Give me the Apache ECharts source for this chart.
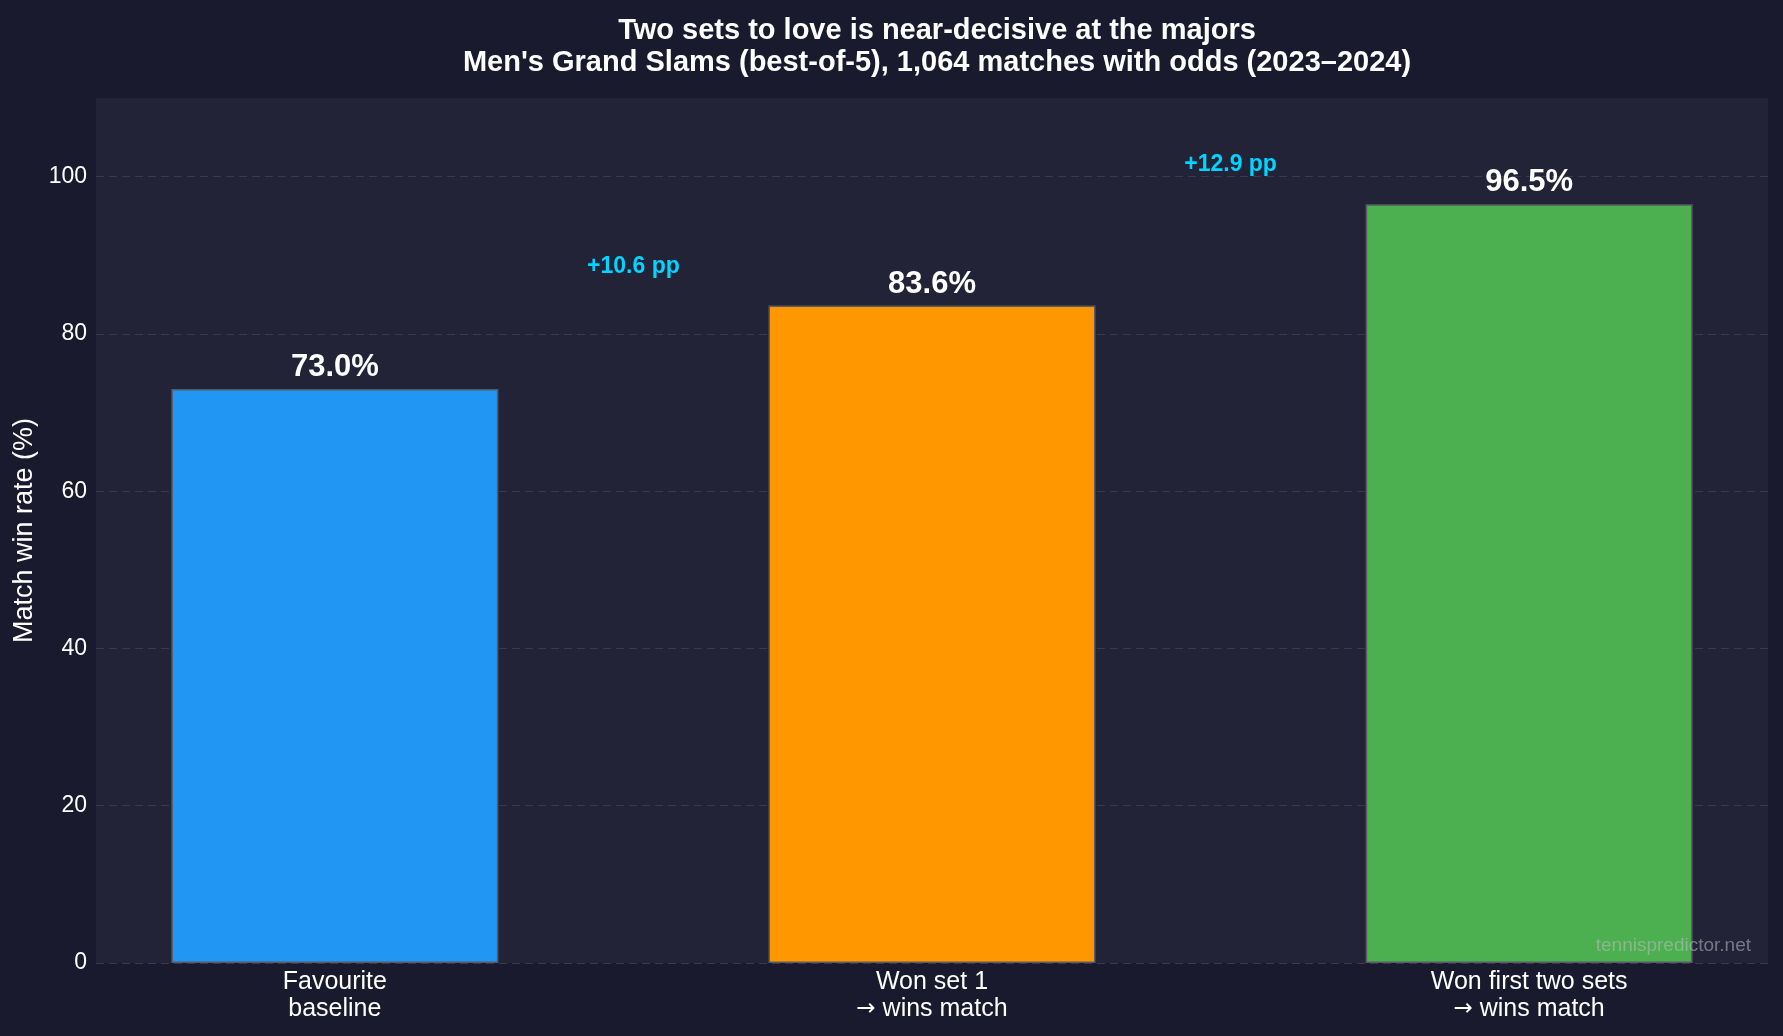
<!DOCTYPE html>
<html>
<head>
<meta charset="utf-8">
<script src="https://cdn.jsdelivr.net/npm/echarts@6/dist/echarts.min.js"></script>
<style>
  html, body { margin: 0; padding: 0; background: #1a1a2e; }
  #chart { width: 1783px; height: 1036px; }
</style>
</head>
<body>
<div id="chart"></div>
<script>
// 数据
var categories = ['Favourite\nbaseline', 'Won set 1\n\u2192 wins match', 'Won first two sets\n\u2192 wins match'];
var winRates = [73.0, 83.6, 96.5];
var barColors = ['#2196F3', '#FF9800', '#4CAF50'];
var yTicks = [0, 20, 40, 60, 80, 100];

// 相邻柱子之间的差值标注
var deltas = [];
for (var i = 1; i < winRates.length; i++) {
    var d = winRates[i] - winRates[i - 1];
    deltas.push({
        value: [i - 0.5, Math.max(winRates[i], winRates[i - 1]) + 5],
        label: '+' + d.toFixed(1) + ' pp'
    });
}

var barData = winRates.map(function (v, i) {
    return {
        value: [i, v],
        itemStyle: { color: barColors[i] }
    };
});

var myChart = echarts.init(document.getElementById('chart'));
var font = 'Liberation Sans, Arial, sans-serif';

var option = {
    backgroundColor: '#1a1a2e',
    animation: false,
    title: {
        text: 'Two sets to love is near-decisive at the majors\nMen\'s Grand Slams (best-of-5), 1,064 matches with odds (2023\u20132024)',
        left: 932,   // 居中于绘图区
        textAlign: 'center',
        top: 10,
        textStyle: {
            color: '#ffffff',
            fontFamily: font,
            fontSize: 29,
            fontWeight: 'bold',
            lineHeight: 32
        }
    },
    grid: {
        left: 96,
        right: 15,
        top: 98,
        bottom: 73,
        show: true,
        backgroundColor: '#232338',
        borderWidth: 0
    },
    xAxis: {
        type: 'value',
        min: -0.4,
        max: 2.4,
        axisLine: { show: false },
        axisTick: { show: false },
        splitLine: { show: false },
        axisLabel: {
            customValues: [0, 1, 2],
            color: '#ffffff',
            fontFamily: font,
            fontSize: 25,
            lineHeight: 27,
            margin: 6,
            formatter: function (v) {
                // 箭头用 DejaVu 字体显示
                return categories[Math.round(v)].replace('\u2192', '{arr|\u2192}');
            },
            rich: {
                arr: {
                    fontFamily: 'DejaVu Sans',
                    fontSize: 23,
                    color: '#ffffff',
                    lineHeight: 27
                }
            }
        }
    },
    yAxis: {
        type: 'value',
        min: 0,
        max: 110,
        interval: 20,
        name: 'Match win rate (%)',
        nameLocation: 'middle',
        nameGap: 55,
        nameTextStyle: {
            color: '#ffffff',
            fontFamily: font,
            fontSize: 27
        },
        axisLine: { show: false },
        axisTick: { show: false },
        axisLabel: {
            color: '#ffffff',
            fontFamily: font,
            fontSize: 23,
            margin: 9,
            showMaxLabel: false
        },
        splitLine: {
            show: true,
            showMaxLine: false,
            lineStyle: { color: '#3a3a4c', type: [8, 5], width: 1.2 }
        }
    },
    series: [
        {
            type: 'bar',
            data: barData,
            barWidth: 327,
            itemStyle: { borderColor: '#5a5a66', borderWidth: 1.5 },
            label: {
                show: true,
                position: 'top',
                distance: 6,
                color: '#ffffff',
                fontFamily: font,
                fontSize: 31,
                fontWeight: 'bold',
                formatter: function (p) {
                    return p.value[1].toFixed(1) + '%';
                }
            }
        },
        {
            type: 'scatter',
            symbolSize: 0,
            itemStyle: { opacity: 1 },
            data: deltas.map(function (d) { return { value: d.value, name: d.label }; }),
            label: {
                show: true,
                position: 'inside',
                color: '#00d4ff',
                fontFamily: font,
                fontSize: 23,
                fontWeight: 'bold',
                formatter: function (p) { return p.name; }
            }
        }
    ],
    graphic: [
        {
            type: 'text',
            right: 32,
            bottom: 81,
            z: 100,
            style: {
                text: 'tennispredictor.net',
                fill: 'rgba(190,190,195,0.55)',
                font: '19px Liberation Sans, Arial, sans-serif'
            }
        }
    ]
};

myChart.setOption(option);
window.addEventListener('resize', function () {
    myChart.resize();
});
</script>
</body>
</html>
